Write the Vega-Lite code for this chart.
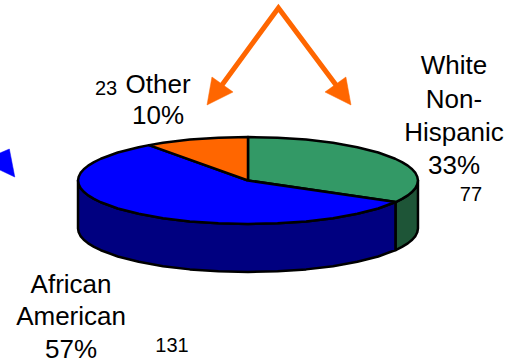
{
  "$schema": "https://vega.github.io/schema/vega-lite/v6.json",
  "width": 514,
  "height": 360,
  "padding": 0,
  "autosize": {"type": "none"},
  "background": "white",
  "view": {"stroke": null},
  "datasets": {
    "blueSide": [
      {"x": -1, "y": 0, "y2": -1.103}, {"x": -0.996, "y": -0.087, "y2": -1.19}, {"x": -0.985, "y": -0.174, "y2": -1.277},
      {"x": -0.966, "y": -0.259, "y2": -1.362}, {"x": -0.94, "y": -0.342, "y2": -1.445}, {"x": -0.906, "y": -0.423, "y2": -1.526},
      {"x": -0.866, "y": -0.5, "y2": -1.603}, {"x": -0.766, "y": -0.643, "y2": -1.746}, {"x": -0.643, "y": -0.766, "y2": -1.869},
      {"x": -0.5, "y": -0.866, "y2": -1.969}, {"x": -0.342, "y": -0.94, "y2": -2.043}, {"x": -0.174, "y": -0.985, "y2": -2.088},
      {"x": 0, "y": -1, "y2": -2.103}, {"x": 0.174, "y": -0.985, "y2": -2.088}, {"x": 0.342, "y": -0.94, "y2": -2.043},
      {"x": 0.5, "y": -0.866, "y2": -1.969}, {"x": 0.643, "y": -0.766, "y2": -1.869}, {"x": 0.766, "y": -0.643, "y2": -1.746},
      {"x": 0.869, "y": -0.495, "y2": -1.598}
    ],
    "greenSide": [
      {"x": 0.869, "y": -0.495, "y2": -1.598}, {"x": 0.906, "y": -0.423, "y2": -1.526}, {"x": 0.94, "y": -0.342, "y2": -1.445},
      {"x": 0.966, "y": -0.259, "y2": -1.362}, {"x": 0.985, "y": -0.174, "y2": -1.277}, {"x": 0.996, "y": -0.087, "y2": -1.19},
      {"x": 1, "y": 0, "y2": -1.103}
    ],
    "whiteNonHispanic": [
      {"i": 0, "x": 0, "y": 0}, {"i": 1, "x": 0, "y": 1}, {"i": 2, "x": 0.174, "y": 0.985}, {"i": 3, "x": 0.342, "y": 0.94},
      {"i": 4, "x": 0.5, "y": 0.866}, {"i": 5, "x": 0.643, "y": 0.766}, {"i": 6, "x": 0.766, "y": 0.643}, {"i": 7, "x": 0.866, "y": 0.5},
      {"i": 8, "x": 0.906, "y": 0.423}, {"i": 9, "x": 0.94, "y": 0.342}, {"i": 10, "x": 0.966, "y": 0.259}, {"i": 11, "x": 0.985, "y": 0.174},
      {"i": 12, "x": 0.996, "y": 0.087}, {"i": 13, "x": 1, "y": 0}, {"i": 14, "x": 0.996, "y": -0.087}, {"i": 15, "x": 0.985, "y": -0.174},
      {"i": 16, "x": 0.966, "y": -0.259}, {"i": 17, "x": 0.94, "y": -0.342}, {"i": 18, "x": 0.906, "y": -0.423}, {"i": 19, "x": 0.869, "y": -0.495},
      {"i": 20, "x": 0, "y": 0}
    ],
    "africanAmerican": [
      {"i": 0, "x": 0, "y": 0}, {"i": 1, "x": 0.869, "y": -0.495}, {"i": 2, "x": 0.766, "y": -0.643}, {"i": 3, "x": 0.643, "y": -0.766},
      {"i": 4, "x": 0.5, "y": -0.866}, {"i": 5, "x": 0.342, "y": -0.94}, {"i": 6, "x": 0.174, "y": -0.985}, {"i": 7, "x": 0, "y": -1},
      {"i": 8, "x": -0.174, "y": -0.985}, {"i": 9, "x": -0.342, "y": -0.94}, {"i": 10, "x": -0.5, "y": -0.866}, {"i": 11, "x": -0.643, "y": -0.766},
      {"i": 12, "x": -0.766, "y": -0.643}, {"i": 13, "x": -0.866, "y": -0.5}, {"i": 14, "x": -0.906, "y": -0.423}, {"i": 15, "x": -0.94, "y": -0.342},
      {"i": 16, "x": -0.966, "y": -0.259}, {"i": 17, "x": -0.985, "y": -0.174}, {"i": 18, "x": -0.996, "y": -0.087}, {"i": 19, "x": -1, "y": 0},
      {"i": 20, "x": -0.996, "y": 0.087}, {"i": 21, "x": -0.985, "y": 0.174}, {"i": 22, "x": -0.966, "y": 0.259}, {"i": 23, "x": -0.94, "y": 0.342},
      {"i": 24, "x": -0.906, "y": 0.423}, {"i": 25, "x": -0.866, "y": 0.5}, {"i": 26, "x": -0.766, "y": 0.643}, {"i": 27, "x": -0.643, "y": 0.766},
      {"i": 28, "x": -0.582, "y": 0.813}, {"i": 29, "x": 0, "y": 0}
    ],
    "other": [
      {"i": 0, "x": 0, "y": 0}, {"i": 1, "x": -0.582, "y": 0.813}, {"i": 2, "x": -0.5, "y": 0.866}, {"i": 3, "x": -0.342, "y": 0.94},
      {"i": 4, "x": -0.174, "y": 0.985}, {"i": 5, "x": 0, "y": 1}, {"i": 6, "x": 0, "y": 0}
    ],
    "arrowLeftHead": [
      {"i": 0, "x": -0.241, "y": 1.736}, {"i": 1, "x": -0.212, "y": 2.379}, {"i": 2, "x": -0.088, "y": 2.034}, {"i": 3, "x": -0.241, "y": 1.736}
    ],
    "arrowRightHead": [
      {"i": 0, "x": 0.606, "y": 1.736}, {"i": 1, "x": 0.576, "y": 2.379}, {"i": 2, "x": 0.453, "y": 2.034}, {"i": 3, "x": 0.606, "y": 1.736}
    ],
    "arrowShaft": [
      {"i": 0, "x": -0.153, "y": 2.195}, {"i": 1, "x": 0.179, "y": 3.966}, {"i": 2, "x": 0.518, "y": 2.195}
    ],
    "bluePointer": [
      {"i": 0, "x": -1.459, "y": 0.632}, {"i": 1, "x": -1.404, "y": 0.724}, {"i": 2, "x": -1.372, "y": 0.08}, {"i": 3, "x": -1.459, "y": 0.241}
    ],
    "labels": [
      {"label": "White", "x": 1.212, "y": 2.63}, {"label": "Non-", "x": 1.212, "y": 1.85}, {"label": "Hispanic", "x": 1.212, "y": 1.09},
      {"label": "33%", "x": 1.212, "y": 0.33}, {"label": "Other", "x": -0.529, "y": 2.195}, {"label": "10%", "x": -0.529, "y": 1.48},
      {"label": "African", "x": -1.041, "y": -2.4}, {"label": "American", "x": -1.041, "y": -3.14}, {"label": "57%", "x": -1.041, "y": -3.9}
    ],
    "counts": [
      {"label": "77", "x": 1.312, "y": -0.33}, {"label": "23", "x": -0.835, "y": 2.105}, {"label": "131", "x": -0.447, "y": -3.8}
    ]
  },
  "encoding": {
    "x": {"field": "x", "type": "quantitative", "axis": null, "scale": {"domain": [-1.459, 1.565], "nice": false, "zero": false}},
    "y": {"field": "y", "type": "quantitative", "axis": null, "scale": {"domain": [-4.126, 4.149], "nice": false, "zero": false}}
  },
  "layer": [
    {"data": {"name": "blueSide"}, "mark": {"type": "area", "fill": "#000080", "stroke": "#000000", "strokeWidth": 2.5, "strokeJoin": "round"}, "encoding": {"y2": {"field": "y2"}}},
    {"data": {"name": "greenSide"}, "mark": {"type": "area", "fill": "#1e5537", "stroke": "#000000", "strokeWidth": 2.5, "strokeJoin": "round"}, "encoding": {"y2": {"field": "y2"}}},
    {"data": {"name": "whiteNonHispanic"}, "mark": {"type": "line", "fill": "#339966", "stroke": "#000000", "strokeWidth": 2.5, "strokeJoin": "round"}, "encoding": {"order": {"field": "i"}}},
    {"data": {"name": "africanAmerican"}, "mark": {"type": "line", "fill": "#0000ff", "stroke": "#000000", "strokeWidth": 2.5, "strokeJoin": "round"}, "encoding": {"order": {"field": "i"}}},
    {"data": {"name": "other"}, "mark": {"type": "line", "fill": "#ff6600", "stroke": "#000000", "strokeWidth": 2.5, "strokeJoin": "round"}, "encoding": {"order": {"field": "i"}}},
    {"data": {"name": "arrowShaft"}, "mark": {"type": "line", "stroke": "#ff6600", "strokeWidth": 5, "strokeJoin": "miter"}, "encoding": {"order": {"field": "i"}}},
    {"data": {"name": "arrowLeftHead"}, "mark": {"type": "line", "fill": "#ff6600", "stroke": "#ff6600", "strokeWidth": 0.5}, "encoding": {"order": {"field": "i"}}},
    {"data": {"name": "arrowRightHead"}, "mark": {"type": "line", "fill": "#ff6600", "stroke": "#ff6600", "strokeWidth": 0.5}, "encoding": {"order": {"field": "i"}}},
    {"data": {"name": "bluePointer"}, "mark": {"type": "line", "fill": "#0000ff", "stroke": "#0000ff", "strokeWidth": 0.5}, "encoding": {"order": {"field": "i"}}},
    {"data": {"name": "labels"}, "mark": {"type": "text", "font": "Liberation Sans", "fontSize": 26, "color": "#000000", "align": "center", "baseline": "middle"}, "encoding": {"text": {"field": "label"}}},
    {"data": {"name": "counts"}, "mark": {"type": "text", "font": "Liberation Sans", "fontSize": 20, "color": "#000000", "align": "center", "baseline": "middle"}, "encoding": {"text": {"field": "label"}}}
  ]
}
